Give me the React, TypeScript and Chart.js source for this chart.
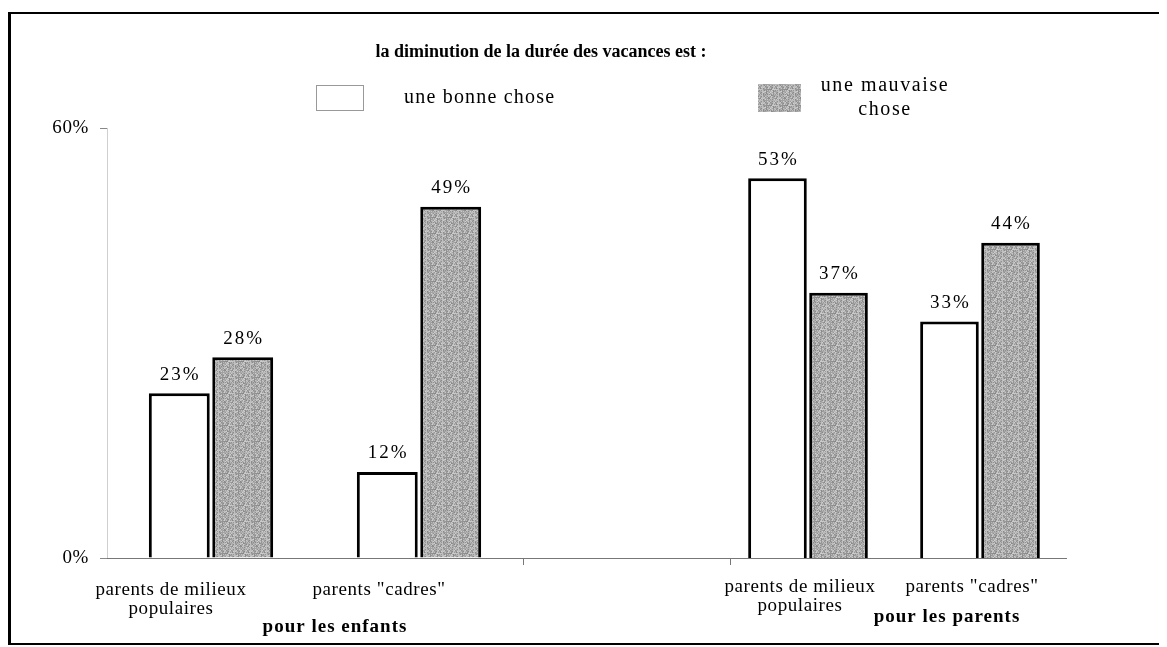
import React, { useEffect, useRef } from "react";
import { Chart, registerables } from "chart.js";

Chart.register(...registerables);

const titleText = "la diminution de la durée des vacances est :";
const seriesNames = ["une bonne chose", "une mauvaise chose"];
const leftCategories = [["parents de milieux", "populaires"], 'parents "cadres"'];
const rightCategories = [["parents de milieux", "populaires"], 'parents "cadres"'];
const groupNames = ["pour les enfants", "pour les parents"];
const enfantsBonne = [23, 12];
const enfantsMauvaise = [28, 49];
const parentsBonne = [53, 33];
const parentsMauvaise = [37, 44];
const yTickValues = [0, 60];

const SERIF = "'Liberation Serif', 'DejaVu Serif', serif";
const W = 1150;
const H = 629;

function makeTexture(): CanvasPattern | string {
  const c = document.createElement("canvas");
  c.width = 16;
  c.height = 16;
  const g = c.getContext("2d");
  if (!g) return "#b0b0b0";
  for (let y = 0; y < 16; y++) {
    for (let x = 0; x < 16; x++) {
      const h = ((x * 73 + y * 151 + x * y * 17) % 29) / 29;
      const v = Math.round(135 + h * 75);
      g.fillStyle = `rgb(${v},${v},${v})`;
      g.fillRect(x, y, 1, 1);
    }
  }
  return g.createPattern(c, "repeat") || "#b0b0b0";
}

function drawValueLabels(chart: any) {
  const ctx = chart.ctx as any;
  ctx.save();
  ctx.letterSpacing = "2px";
  ctx.font = `19px ${SERIF}`;
  ctx.fillStyle = "#000";
  ctx.textAlign = "center";
  ctx.textBaseline = "bottom";
  chart.data.datasets.forEach((ds: any, i: number) => {
    const meta = chart.getDatasetMeta(i);
    meta.data.forEach((el: any, j: number) => {
      ctx.fillText(ds.data[j] + "%", el.x + 1, el.y - 9);
    });
  });
  ctx.restore();
}

export default function App() {
  const leftRef = useRef<HTMLCanvasElement>(null);
  const rightRef = useRef<HTMLCanvasElement>(null);

  useEffect(() => {
    if (!leftRef.current || !rightRef.current) return;
    const texture = makeTexture();

    const spacing = {
      id: "spacing",
      beforeDraw(chart: any) {
        (chart.ctx as any).letterSpacing = "0.6px";
      },
    };

    const leftAnnotations = {
      id: "leftAnnotations",
      afterDatasetsDraw(chart: any) {
        drawValueLabels(chart);
        const ctx = chart.ctx as any;
        ctx.save();
        const xl = chart.scales.xL;
        ctx.fillStyle = "#000";
        ctx.textAlign = "center";
        ctx.textBaseline = "middle";
        ctx.letterSpacing = "1px";
        ctx.font = `bold 19px ${SERIF}`;
        ctx.fillText(groupNames[0], (xl.left + xl.right) / 2 + 20, 613);
        // title
        ctx.letterSpacing = "0px";
        ctx.font = `bold 18px ${SERIF}`;
        ctx.fillText(titleText, 530, 38);
        // legend
        ctx.fillStyle = "#fff";
        ctx.fillRect(305, 71, 47, 25);
        ctx.strokeStyle = "#999";
        ctx.lineWidth = 1;
        ctx.strokeRect(305.5, 71.5, 47, 25);
        ctx.fillStyle = texture;
        ctx.fillRect(747, 70, 43, 28);
        ctx.fillStyle = "#000";
        ctx.letterSpacing = "1.2px";
        ctx.font = `20px ${SERIF}`;
        ctx.textAlign = "left";
        ctx.fillText(seriesNames[0], 393, 84);
        ctx.textAlign = "center";
        ctx.letterSpacing = "1.6px";
        const words = seriesNames[1].split(" ");
        ctx.fillText(words.slice(0, 2).join(" "), 874, 72);
        ctx.fillText(words.slice(2).join(" "), 874, 96);
        ctx.restore();
      },
    };

    const rightAnnotations = {
      id: "rightAnnotations",
      afterDatasetsDraw(chart: any) {
        drawValueLabels(chart);
        const ctx = chart.ctx as any;
        ctx.save();
        const xr = chart.scales.xR;
        ctx.fillStyle = "#000";
        ctx.textAlign = "center";
        ctx.textBaseline = "middle";
        ctx.letterSpacing = "1px";
        ctx.font = `bold 19px ${SERIF}`;
        ctx.fillText(groupNames[1], (xr.left + xr.right) / 2 + 53, 603);
        ctx.restore();
      },
    };

    const tickFont = { family: SERIF, size: 19, lineHeight: 1.0 };
    const whiteStyle = {
      backgroundColor: "#ffffff",
      borderColor: "#000",
      borderWidth: 3,
      borderSkipped: "bottom" as const,
      barPercentage: 0.96,
    };
    const grayStyle = {
      backgroundColor: texture,
      borderColor: "#000",
      borderWidth: 3,
      borderSkipped: "bottom" as const,
      barPercentage: 0.96,
    };
    const common = {
      animation: false as const,
      responsive: false,
      maintainAspectRatio: false,
      plugins: { legend: { display: false }, title: { display: false }, tooltip: { enabled: false } },
    };
    const yBase = {
      min: 0,
      max: 60,
      afterBuildTicks: (s: any) => {
        s.ticks = yTickValues.map((v) => ({ value: v }));
      },
    };

    const left = new Chart(leftRef.current, {
      type: "bar",
      data: {
        datasets: [
          { label: seriesNames[0], data: enfantsBonne, xAxisID: "xL", categoryPercentage: 0.61, ...whiteStyle },
          { label: seriesNames[1], data: enfantsMauvaise, xAxisID: "xL", categoryPercentage: 0.61, ...grayStyle },
        ] as any,
      },
      options: {
        ...common,
        layout: { padding: { top: 114, right: W - 719, left: 0, bottom: 0 } },
        scales: {
          y: {
            ...yBase,
            position: "left",
            afterFit: (s: any) => {
              s.width = 96;
            },
            ticks: {
              font: { family: SERIF, size: 19 },
              color: "#000",
              padding: 11,
              callback: (v: any) => v + "%",
            },
            grid: { display: true, drawOnChartArea: false, drawTicks: true, tickLength: 7, color: "#888" },
            border: { display: true, color: "#cfcfcf", width: 1 },
          },
          xL: {
            type: "category",
            position: "bottom",
            stack: "base",
            stackWeight: 416,
            labels: leftCategories as any,
            offset: true,
            afterFit: (s: any) => {
              s.height = 85;
            },
            ticks: { font: tickFont, color: "#000", padding: 15, maxRotation: 0, autoSkip: false, labelOffset: -40 },
            grid: { display: false },
            border: { display: true, color: "#777", width: 1 },
          },
          gap: {
            type: "category",
            position: "bottom",
            stack: "base",
            stackWeight: 207,
            labels: ["", ""],
            offset: false,
            afterFit: (s: any) => {
              s.height = 85;
            },
            ticks: { display: false },
            grid: { display: true, offset: false, drawOnChartArea: false, drawTicks: true, tickLength: 7, color: "#777" },
            border: { display: true, color: "#777", width: 1 },
          },
        } as any,
      },
      plugins: [spacing, leftAnnotations],
    });

    const right = new Chart(rightRef.current, {
      type: "bar",
      data: {
        datasets: [
          { label: seriesNames[0], data: parentsBonne, xAxisID: "xR", categoryPercentage: 0.71, ...whiteStyle },
          { label: seriesNames[1], data: parentsMauvaise, xAxisID: "xR", categoryPercentage: 0.71, ...grayStyle },
        ] as any,
      },
      options: {
        ...common,
        layout: { padding: { top: 114, right: W - 1055, left: 711, bottom: 0 } },
        scales: {
          y: { ...yBase, display: false },
          xR: {
            type: "category",
            position: "bottom",
            labels: rightCategories as any,
            offset: true,
            afterFit: (s: any) => {
              s.height = 85;
            },
            ticks: { font: tickFont, color: "#000", padding: 12, maxRotation: 0, autoSkip: false, labelOffset: -8 },
            grid: { display: false },
            border: { display: true, color: "#777", width: 1 },
          },
        } as any,
      },
      plugins: [spacing, rightAnnotations],
    });

    return () => {
      left.destroy();
      right.destroy();
    };
  }, []);

  return (
    <div
      style={{
        marginTop: 4,
        width: 1155,
        height: 633,
        boxSizing: "border-box",
        borderTop: "2px solid #000",
        borderLeft: "3px solid #000",
        borderRight: "2px solid #000",
        borderBottom: "2px solid #000",
        background: "#fff",
      }}
    >
      <div style={{ position: "relative", width: W, height: H }}>
        <canvas
          ref={leftRef}
          width={W}
          height={H}
          style={{ position: "absolute", left: 0, top: 0, width: W, height: H }}
        />
        <canvas
          ref={rightRef}
          width={W}
          height={H}
          style={{ position: "absolute", left: 0, top: 0, width: W, height: H, pointerEvents: "none" }}
        />
      </div>
    </div>
  );
}
